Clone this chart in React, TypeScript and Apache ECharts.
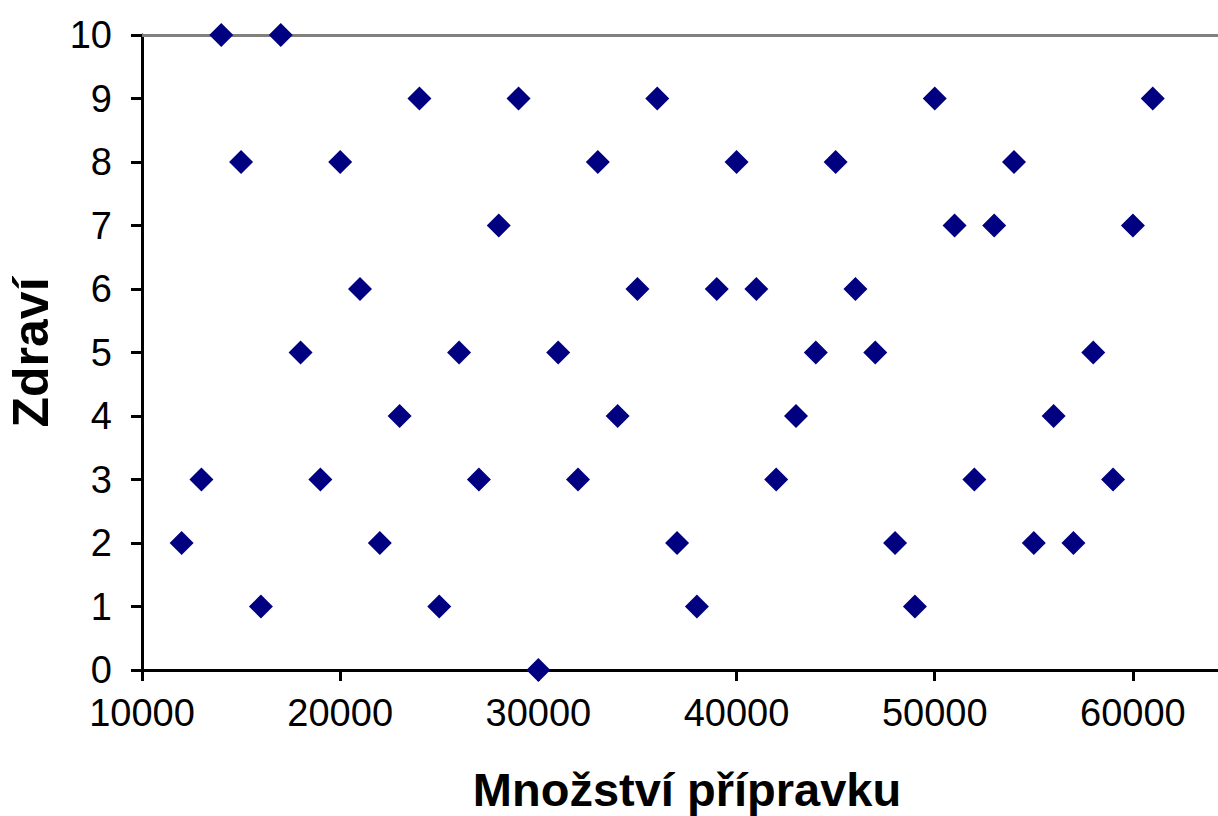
import React, { useEffect, useRef } from "react";
import * as echarts from "echarts";

const xValues = [
  12000, 13000, 14000, 15000, 16000, 17000, 18000, 19000, 20000, 21000,
  22000, 23000, 24000, 25000, 26000, 27000, 28000, 29000, 30000, 31000,
  32000, 33000, 34000, 35000, 36000, 37000, 38000, 39000, 40000, 41000,
  42000, 43000, 44000, 45000, 46000, 47000, 48000, 49000, 50000, 51000,
  52000, 53000, 54000, 55000, 56000, 57000, 58000, 59000, 60000, 61000,
];
const yValues = [
  2, 3, 10, 8, 1, 10, 5, 3, 8, 6,
  2, 4, 9, 1, 5, 3, 7, 9, 0, 5,
  3, 8, 4, 6, 9, 2, 1, 6, 8, 6,
  3, 4, 5, 8, 6, 5, 2, 1, 9, 7,
  3, 7, 8, 2, 4, 2, 5, 3, 7, 9,
];
const xTitle = "Množství přípravku";
const yTitle = "Zdraví";

export default function App() {
  const ref = useRef<HTMLDivElement>(null);
  useEffect(() => {
    if (!ref.current) return;
    const chart = echarts.init(ref.current, null, { renderer: "svg" });
    const data = xValues.map((x, i) => [x, yValues[i]]);
    chart.setOption({
      animation: false,
      backgroundColor: "#ffffff",
      grid: {
        left: 142,
        right: 8,
        top: 35,
        bottom: 146,
        containLabel: false,
        outerBoundsMode: "none",
      },
      xAxis: [
        {
          type: "value",
          min: 10000,
          max: 65000,
          interval: 10000,
          position: "bottom",
          name: xTitle,
          nameLocation: "middle",
          nameGap: 96,
          nameMoveOverlap: false,
          nameTextStyle: {
            fontFamily: "Liberation Sans, Arial, sans-serif",
            fontWeight: "bold",
            fontSize: 47,
            lineHeight: 47,
            color: "#000",
          },
          axisLine: { show: true, lineStyle: { color: "#000", width: 3 } },
          axisTick: { show: true, inside: false, length: 11, lineStyle: { color: "#000", width: 3 } },
          axisLabel: {
            show: true,
            margin: 24,
            fontFamily: "Liberation Sans, Arial, sans-serif",
            fontSize: 38,
            color: "#000",
            showMaxLabel: false,
            formatter: (v: number) => (v % 10000 === 0 ? String(v) : ""),
          },
          splitLine: { show: false },
        },
        {
          type: "value",
          min: 10000,
          max: 65000,
          interval: 10000,
          position: "top",
          axisLine: { show: true, lineStyle: { color: "#808080", width: 3 } },
          axisTick: { show: false },
          axisLabel: { show: false },
          splitLine: { show: false },
        },
      ],
      yAxis: {
        type: "value",
        min: 0,
        max: 10,
        interval: 1,
        name: yTitle,
        nameLocation: "middle",
        nameGap: 86,
        nameMoveOverlap: false,
        nameRotate: 90,
        nameTextStyle: {
          fontFamily: "Liberation Sans, Arial, sans-serif",
          fontWeight: "bold",
          fontSize: 50,
          color: "#000",
        },
        axisLine: { show: true, lineStyle: { color: "#000", width: 3 } },
        axisTick: { show: true, inside: false, length: 11, lineStyle: { color: "#000", width: 3 } },
        axisLabel: {
          margin: 30,
          fontFamily: "Liberation Sans, Arial, sans-serif",
          fontSize: 38,
          color: "#000",
        },
        splitLine: { show: false },
      },
      series: [
        {
          type: "scatter",
          xAxisIndex: 0,
          data,
          symbol: "diamond",
          symbolSize: [24, 24],
          itemStyle: { color: "#000080", opacity: 1 },
          z: 5,
        },
      ],
    });
    return () => chart.dispose();
  }, []);
  return (
    <div
      style={{
        position: "fixed",
        left: 0,
        top: 0,
        width: 1218,
        height: 816,
        overflow: "hidden",
        background: "#fff",
      }}
    >
      <div ref={ref} style={{ width: 1240, height: 816 }} />
    </div>
  );
}
